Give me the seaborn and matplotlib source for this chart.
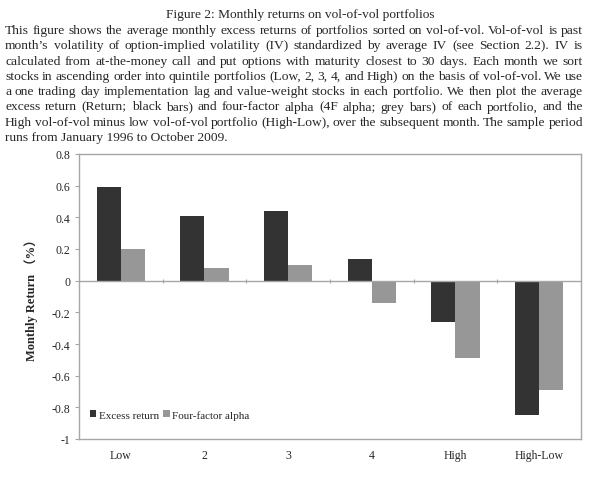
import pandas as pd
import numpy as np
import matplotlib
matplotlib.use("Agg")
import matplotlib.pyplot as plt
from matplotlib.patches import Patch
import seaborn as sns

# --- data ---
portfolios = ["Low", "2", "3", "4", "High", "High-Low"]
excess_return = [0.59, 0.41, 0.44, 0.14, -0.26, -0.85]
four_factor_alpha = [0.20, 0.08, 0.10, -0.14, -0.49, -0.69]
series_names = ["Excess return", "Four-factor alpha"]
y_ticks = [-1, -0.8, -0.6, -0.4, -0.2, 0, 0.2, 0.4, 0.6, 0.8]

title_text = "Figure 2: Monthly returns on vol-of-vol portfolios"
caption_lines = [
    "This figure shows the average monthly excess returns of portfolios sorted on vol-of-vol.  Vol-of-vol is past",
    "month\u2019s volatility of option-implied volatility (IV) standardized by average IV (see Section 2.2).  IV is",
    "calculated from at-the-money call and put options with maturity closest to 30 days.  Each month we sort",
    "stocks in ascending order into quintile portfolios (Low, 2, 3, 4, and High) on the basis of vol-of-vol.  We use",
    "a one trading day implementation lag and value-weight stocks in each portfolio.  We then plot the average",
    "excess return (Return; black bars) and four-factor alpha (4F alpha; grey bars) of each portfolio, and the",
    "High vol-of-vol minus low vol-of-vol portfolio (High-Low), over the subsequent month.  The sample period",
    "runs from January 1996 to October 2009.",
]

COLOR_DARK = "#333333"
COLOR_GREY = "#979797"
FRAME = "#a6a6a6"

sns.set_theme(style="white")
plt.rcParams['font.family'] = ['Liberation Serif', 'DejaVu Serif']

df = pd.DataFrame({
    "portfolio": portfolios * 2,
    "series": [series_names[0]] * len(portfolios) + [series_names[1]] * len(portfolios),
    "value": excess_return + four_factor_alpha,
})

fig = plt.figure(figsize=(6.0, 4.81), dpi=100)
W, H = 600, 481
ax = fig.add_axes([79 / W, 1 - 440 / H, (581 - 79) / W, (440 - 155) / H])

sns.barplot(data=df, x="portfolio", y="value", hue="series", order=portfolios,
            hue_order=series_names, palette=[COLOR_DARK, COLOR_GREY],
            width=0.575, gap=0, edgecolor="none", legend=False, ax=ax)

ax.set_xlim(-0.5, len(portfolios) - 0.5)
ax.set_ylim(-1, 0.8)
ax.set_yticks(y_ticks)
ax.set_yticklabels([f"{v:g}" for v in y_ticks], fontsize=8.5)
ax.tick_params(axis="y", length=3, width=0.8, color=FRAME, direction="out", pad=3, left=True)
ax.tick_params(axis="x", length=0, pad=7, labelsize=8.5)
ax.set_xlabel("")
ax.set_ylabel("Monthly Return （%）", fontsize=9, fontweight="bold", labelpad=10,
              family=['Liberation Serif', 'Noto Sans CJK JP'])

for s in ax.spines.values():
    s.set_color(FRAME)
    s.set_linewidth(1.0)

# category axis through zero with boundary ticks
ax.axhline(0, color=FRAME, linewidth=1.0, zorder=1)
bounds = np.arange(len(portfolios) - 1) + 0.5
ax.vlines(bounds, -0.012, 0.012, color=FRAME, linewidth=0.8, zorder=1)

handles = [Patch(facecolor=COLOR_DARK, edgecolor="none"),
           Patch(facecolor=COLOR_GREY, edgecolor="none")]
ax.legend(handles, series_names, loc="lower left", bbox_to_anchor=(0.008, 0.045),
          ncol=2, frameon=False, fontsize=8, handlelength=0.6, handleheight=0.6,
          handletextpad=0.2, columnspacing=0.4, borderaxespad=0.2)

# caption above the chart, justified (words placed on a common baseline)
fig.text(0.5, 1 - 18 / H, title_text, ha="center", va="baseline", fontsize=9.6)
renderer = fig.canvas.get_renderer()
x0, x1 = 5 / W, 583 / W
for i, line in enumerate(caption_lines):
    y = 1 - (34 + 15.3 * i) / H
    words = line.split()
    if i == len(caption_lines) - 1:
        fig.text(x0, y, line, ha="left", va="baseline", fontsize=9.7)
        continue
    texts = [fig.text(0, y, w, ha="left", va="baseline", fontsize=9.7) for w in words]
    widths = [t.get_window_extent(renderer).width / W for t in texts]
    gap = (x1 - x0 - sum(widths)) / (len(words) - 1)
    pos = x0
    for t, w in zip(texts, widths):
        t.set_x(pos)
        pos += w + gap

fig.savefig("out.png", dpi=100)
